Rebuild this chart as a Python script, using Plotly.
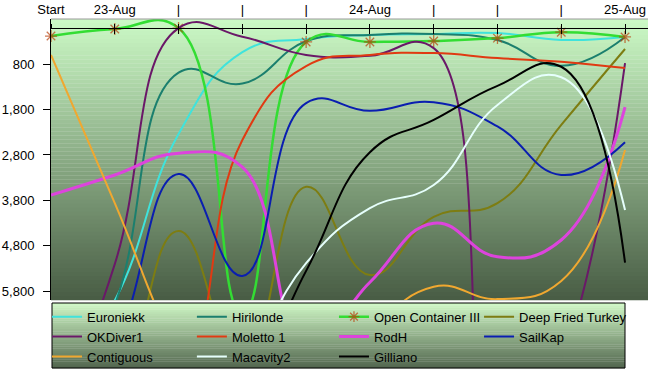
import plotly.graph_objects as go

categories = ["Start", "23-Aug", "|", "|", "|", "24-Aug", "|", "|", "|", "25-Aug"]

euroniekk = [8000, 6000, 2340, 540, 250, 160, 140, 120, 270, 205]
hirilonde = [9000, 6100, 990, 1230, 300, 160, 140, 270, 840, 205]
open_container = [185, 30, 10, 6300, 315, 315, 295, 230, 100, 205]
deep_fried = [9000, 8000, 4470, 7500, 3500, 5440, 4160, 3860, 2140, 470]
okdiver = [9000, 5200, 10, 200, 600, 620, 450, 10000, 7400, 780]
moletto = [9000, 9000, 8000, 2470, 845, 600, 560, 670, 750, 890]
rodh = [3680, 3240, 2760, 3070, 7000, 5600, 4300, 5040, 4670, 1750]
sailkap = [9000, 7000, 3220, 5460, 1660, 1830, 1640, 2170, 3240, 2520]
contiguous = [600, 3860, 7100, 9000, 9000, 6800, 5700, 5970, 5570, 2690]
macavity = [9000, 9000, 9000, 7500, 5180, 3970, 3460, 1700, 1090, 4010]
gilliano = [9000, 9000, 9000, 8000, 5350, 2740, 2030, 1280, 860, 5170]

y_ticks = [800, 1800, 2800, 3800, 4800, 5800]
y_tick_text = ["800", "1,800", "2,800", "3,800", "4,800", "5,800"]

series = [
    ("Euroniekk", euroniekk, "#3fe3dc", 2),
    ("Hirilonde", hirilonde, "#1b7f6e", 2),
    ("Open Container III", open_container, "#33dd33", 2.5),
    ("Deep Fried Turkey", deep_fried, "#7d7d12", 2),
    ("OKDiver1", okdiver, "#6a1868", 2),
    ("Moletto 1", moletto, "#e03a12", 2),
    ("RodH", rodh, "#dd44dd", 3),
    ("SailKap", sailkap, "#0a1eb0", 2),
    ("Contiguous", contiguous, "#f0a830", 2),
    ("Macavity2", macavity, "#e6fffc", 2),
    ("Gilliano", gilliano, "#000000", 2),
]

Y_MIN, Y_MAX = -190, 5990
X_MAX = 9.36
x = list(range(len(categories)))
legend_ids = ["legend", "legend2", "legend3", "legend4"]

fig = go.Figure()
for i, (name, vals, color, w) in enumerate(series):
    kw = {}
    mode = "lines"
    if name == "Open Container III":
        mode = "lines+markers"
        kw["marker"] = dict(symbol="asterisk-open", size=[10 if v <= Y_MAX else 0 for v in vals],
                            line=dict(color="#b8400c", width=1.3), color="#b8400c")
        kw["cliponaxis"] = False
    fig.add_trace(go.Scatter(x=x, y=vals, name=name, mode=mode, legend=legend_ids[i % 4],
                             line=dict(color=color, width=w, shape="spline", smoothing=1.3),
                             **kw))

# position of value 0 in paper coordinates
p0 = (Y_MAX - 0) / (Y_MAX - Y_MIN)

shapes = []
# plot background gradient
N = 70
top = (204, 250, 198)
bot = (72, 92, 68)
for i in range(N):
    t = (i + 0.5) / N
    c = tuple(int(round(top[k] + (bot[k] - top[k]) * t)) for k in range(3))
    shapes.append(dict(type="rect", xref="paper", yref="paper", x0=0, x1=1,
                       y0=1 - (i + 1) / N - 0.001, y1=1 - i / N, layer="below",
                       line=dict(width=0), fillcolor="rgb(%d,%d,%d)" % c))
# legend gradient box
ly0, ly1 = -0.0107, -0.2420
lx0, lx1 = 0.0017, 0.9615
M = 30
ltop = (208, 248, 198)
lbot = (82, 102, 78)
for i in range(M):
    t = (i + 0.5) / M
    c = tuple(int(round(ltop[k] + (lbot[k] - ltop[k]) * t)) for k in range(3))
    shapes.append(dict(type="rect", xref="paper", yref="paper", x0=lx0, x1=lx1,
                       y0=ly0 + (ly1 - ly0) * (i + 1) / M - 0.001, y1=ly0 + (ly1 - ly0) * i / M,
                       layer="below", line=dict(width=0), fillcolor="rgb(%d,%d,%d)" % c))
shapes.append(dict(type="rect", xref="paper", yref="paper", x0=lx0, x1=lx1, y0=ly1, y1=ly0,
                   layer="above", line=dict(color="black", width=1), fillcolor="rgba(0,0,0,0)"))
# plot area top border
shapes.append(dict(type="line", xref="paper", yref="paper", x0=0, x1=1, y0=1, y1=1,
                   layer="above", line=dict(color="#999999", width=1)))

font = dict(family="Liberation Sans, Arial, sans-serif", size=13, color="black")

legend_x = [-0.0067, 0.236, 0.474, 0.717]
legends = {}
for lid, lxp in zip(legend_ids, legend_x):
    legends[lid] = dict(orientation="v", x=lxp, y=-0.006, xanchor="left", yanchor="top",
                        bgcolor="rgba(0,0,0,0)", borderwidth=0, font=font, tracegroupgap=0)

fig.update_layout(
    width=650, height=373,
    margin=dict(l=51, r=2, t=19, b=73, autoexpand=False),
    paper_bgcolor="white",
    plot_bgcolor="rgba(0,0,0,0)",
    font=font,
    showlegend=True,
    shapes=shapes,
    xaxis=dict(range=[0, X_MAX], tickvals=x, ticktext=categories, side="top",
               anchor="free", position=p0, showline=True, linecolor="black", linewidth=1,
               ticks="outside", ticklen=4, tickcolor="black", showgrid=False, zeroline=False,
               ticklabelstandoff=4, tickfont=font, automargin=False),
    xaxis2=dict(range=[0, X_MAX], tickvals=x, overlaying="x", matches="x", side="top",
                anchor="free", position=p0, showline=False, ticks="inside", ticklen=5,
                tickcolor="black", showticklabels=False, showgrid=False, zeroline=False,
                automargin=False),
    yaxis=dict(range=[Y_MAX, Y_MIN], tickvals=y_ticks, ticktext=y_tick_text,
               showline=True, linecolor="black", linewidth=1, ticks="outside", ticklen=7,
               tickcolor="black", showgrid=False, zeroline=False, tickfont=font,
               ticklabelstandoff=6, automargin=False),
    **legends,
)

# invisible trace to activate xaxis2
fig.add_trace(go.Scatter(x=[0], y=[None], xaxis="x2", showlegend=False, hoverinfo="skip"))

fig.write_html("out.html", config={"displayModeBar": False},
               post_script="document.body.style.margin='0';document.body.style.padding='0';")
